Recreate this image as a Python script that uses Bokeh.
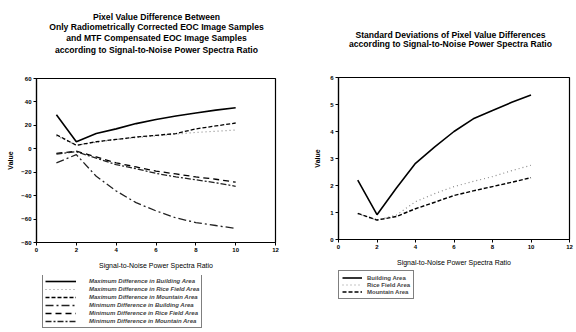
from bokeh.plotting import figure
from bokeh.layouts import row, column
from bokeh.models import Legend, LegendItem, Label
from bokeh.embed import file_html
from bokeh.resources import INLINE

snr = [1, 2, 3, 4, 5, 6, 7, 8, 9, 10]

max_building = [29, 6, 13, 17, 21.5, 25, 28, 30.5, 33, 35]
max_rice = [11, 3, 5.5, 8, 9.5, 11, 12.5, 14, 15, 16]
max_mountain = [12, 3, 6, 8, 10, 11.5, 13, 17, 19.5, 22]
min_building = [-12, -5, -23.5, -36, -46, -53, -59, -63, -65.5, -68]
min_rice = [-4, -2, -7, -12, -15.5, -19, -21.5, -24, -26, -28.5]
min_mountain = [-4.5, -2.5, -8, -13.5, -17, -21, -24, -26.5, -29, -32]

std_building = [2.2, 0.92, 1.9, 2.82, 3.43, 4.0, 4.47, 4.78, 5.08, 5.35]
std_rice = [0.95, 0.72, 0.9, 1.4, 1.7, 1.96, 2.15, 2.33, 2.55, 2.75]
std_mountain = [0.97, 0.72, 0.85, 1.14, 1.38, 1.63, 1.8, 1.96, 2.12, 2.29]

x_ticks = [0, 2, 4, 6, 8, 10, 12]
y_ticks_left = [-80, -60, -40, -20, 0, 20, 40, 60]
y_ticks_right = [0, 1, 2, 3, 4, 5, 6]

title_left = ["Pixel Value Difference Between",
              "Only Radiometrically Corrected EOC Image Samples",
              "and MTF Compensated EOC Image Samples",
              "according to Signal-to-Noise Power Spectra Ratio"]
title_right = ["Standard Deviations of Pixel Value Differences",
               "according to Signal-to-Noise Power Spectra Ratio"]

left_names = ["Maximum Difference in Building Area",
              "Maximum Difference in Rice Field Area",
              "Maximum Difference in Mountain Area",
              "Minimum Difference in Building Area",
              "Minimum Difference in Rice Field Area",
              "Minimum Difference in Mountain Area"]
right_names = ["Building Area", "Rice Field Area", "Mountain Area"]

FONT = "Liberation Sans"

left_series = [max_building, max_rice, max_mountain, min_building, min_rice, min_mountain]
left_styles = [("black", 1.6, "solid"), ("#8a8a8a", 1.2, "1 3"), ("black", 1.3, "4 2"),
               ("#222222", 1.3, "8 3 2 3"), ("black", 1.3, "6 4"), ("#222222", 1.3, "6 2 2 2")]
right_series = [std_building, std_rice, std_mountain]
right_styles = [("black", 1.6, "solid"), ("#8a8a8a", 1.2, "1 3"), ("black", 1.4, "4 2")]


def blank(width, height):
    f = figure(width=width, height=height, output_backend="svg", toolbar_location=None,
               x_axis_location=None, y_axis_location=None, min_border=0,
               x_range=(0, 1), y_range=(0, 1))
    f.xgrid.visible = False
    f.ygrid.visible = False
    f.outline_line_color = None
    return f


def title_fig(width, height, lines, cx, ys):
    f = blank(width, height)
    for line, y in zip(lines, ys):
        f.add_layout(Label(x=cx, y=y, x_units="screen", y_units="screen", text=line,
                           text_align="center", text_baseline="middle", text_font=FONT,
                           text_font_size="8.6px", text_font_style="bold", text_color="black"))
    return f


def style(p, yticks, ystandoff):
    p.xgrid.visible = False
    p.ygrid.visible = False
    p.outline_line_color = "black"
    p.outline_line_width = 1.2
    p.xaxis.ticker = x_ticks
    p.yaxis.ticker = yticks
    for ax in (p.xaxis[0], p.yaxis[0]):
        ax.axis_line_color = "black"
        ax.axis_line_width = 1.2
        ax.major_tick_line_color = "black"
        ax.major_tick_out = 3
        ax.major_tick_in = 0
        ax.minor_tick_line_color = None
        ax.major_label_text_font = FONT
        ax.major_label_text_font_size = "6px"
        ax.major_label_text_font_style = "bold"
        ax.major_label_text_color = "black"
        ax.major_label_standoff = 2
        ax.axis_label_text_font = FONT
        ax.axis_label_text_color = "black"
    p.xaxis.axis_label = "Signal-to-Noise Power Spectra Ratio"
    p.xaxis.axis_label_text_font_size = "7px"
    p.xaxis.axis_label_text_font_style = "normal"
    p.xaxis.axis_label_standoff = 7
    p.yaxis.axis_label = "Value"
    p.yaxis.axis_label_text_font_size = "7px"
    p.yaxis.axis_label_text_font_style = "bold"
    p.yaxis.axis_label_standoff = ystandoff


def legend_fig(width, height, names, series, styles, loc, glyph_w, standoff, lh, pad, fstyle):
    f = blank(width, height)
    items = []
    for name, ys, (col, w, dash) in zip(names, series, styles):
        r = f.line(snr, ys, line_color=col, line_width=w, line_dash=dash, visible=False)
        items.append(LegendItem(label=name, renderers=[r]))
    leg = Legend(items=items, location=loc, margin=0, padding=pad, spacing=0,
                 glyph_width=glyph_w, glyph_height=lh, label_height=lh, label_standoff=standoff,
                 label_text_font=FONT, label_text_font_size="6px",
                 label_text_font_style=fstyle, border_line_color="black",
                 border_line_width=1.2, inactive_fill_alpha=0, background_fill_alpha=1)
    f.add_layout(leg, "center")
    return f


# ---------- left chart (frames of a column are aligned with the chart frame) ----------
t1 = title_fig(290, 60, title_left, 120, [44, 34, 23, 11])
p1 = figure(width=290, height=215, x_range=(0, 12), y_range=(-80, 60),
            output_backend="svg", toolbar_location=None,
            min_border_left=36, min_border_right=15,
            min_border_top=18, min_border_bottom=33)
style(p1, y_ticks_left, 4)
for ys, (col, w, dash) in zip(left_series, left_styles):
    p1.line(snr, ys, line_color=col, line_width=w, line_dash=dash)
l1 = legend_fig(290, 57, left_names, left_series, left_styles, (6, 4), 31, 13, 8, 2,
                "bold italic")

# ---------- right chart ----------
t2 = title_fig(286, 60, title_right, 112, [26, 17])
p2 = figure(width=286, height=208, x_range=(0, 12), y_range=(0, 6),
            output_backend="svg", toolbar_location=None,
            min_border_left=48, min_border_right=7,
            min_border_top=17, min_border_bottom=28)
style(p2, y_ticks_right, 6)
for ys, (col, w, dash) in zip(right_series, right_styles):
    p2.line(snr, ys, line_color=col, line_width=w, line_dash=dash)
l2 = legend_fig(286, 64, right_names, right_series, right_styles, (0, 33), 20, 5, 7, 3,
                "bold")

layout = row(column(t1, p1, l1, spacing=0), column(t2, p2, l2, spacing=0), spacing=0)
open("out.html", "w").write(file_html(layout, INLINE))
